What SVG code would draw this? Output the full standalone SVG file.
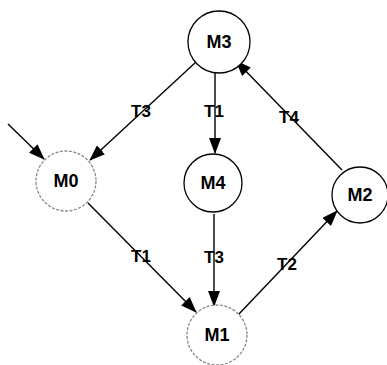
<svg xmlns="http://www.w3.org/2000/svg" width="387" height="365" viewBox="0 0 387 365">
<style>
.n{fill:#fff;stroke:#000;stroke-width:1.3}
.g{fill:#fff;stroke:#888;stroke-width:1.3;stroke-dasharray:3 1.5}
.t{font-family:"Liberation Sans",Arial,sans-serif;font-weight:bold;font-size:18px;text-anchor:middle;fill:#000}
.l{font-family:"Liberation Sans",Arial,sans-serif;font-weight:bold;font-size:17px;text-anchor:middle;fill:#000}
.e{stroke:#000;stroke-width:1.4;fill:none}
</style>
<defs>
<marker id="a" markerWidth="16" markerHeight="12" refX="15" refY="6" orient="auto" markerUnits="userSpaceOnUse">
<path d="M0,0 L16,6 L0,12 Z" fill="#000"/>
</marker>
</defs>
<rect width="387" height="365" fill="#fff"/>
<g id="connectors">
<line class="e" x1="8" y1="124" x2="44" y2="159" marker-end="url(#a)"/>
<line class="e" x1="196" y1="62" x2="90" y2="160" marker-end="url(#a)"/>
<line class="e" x1="215" y1="71" x2="215" y2="153" marker-end="url(#a)"/>
<line class="e" x1="214" y1="214" x2="214" y2="306" marker-end="url(#a)"/>
<line class="e" x1="88" y1="203" x2="196" y2="312" marker-end="url(#a)"/>
<line class="e" x1="238" y1="315" x2="337" y2="211" marker-end="url(#a)"/>
<line class="e" x1="342" y1="170" x2="236" y2="61" marker-end="url(#a)"/>
<text class="l" x="141" y="117">T3</text>
<text class="l" x="214" y="117">T1</text>
<text class="l" x="289" y="123">T4</text>
<text class="l" x="141" y="262">T1</text>
<text class="l" x="214" y="263">T3</text>
<text class="l" x="287" y="270">T2</text>
</g>
<g id="M3"><circle class="n" cx="219" cy="42" r="31"/><text class="t" x="219" y="48">M3</text></g>
<g id="M0"><circle class="g" cx="66" cy="181" r="30"/><text class="t" x="66" y="187">M0</text></g>
<g id="M4"><circle class="n" cx="213" cy="183" r="29"/><text class="t" x="213" y="189">M4</text></g>
<g id="M2"><circle class="n" cx="360" cy="195" r="28"/><text class="t" x="360" y="201">M2</text></g>
<g id="M1"><circle class="g" cx="217" cy="335" r="30"/><text class="t" x="217" y="341">M1</text></g>
</svg>
